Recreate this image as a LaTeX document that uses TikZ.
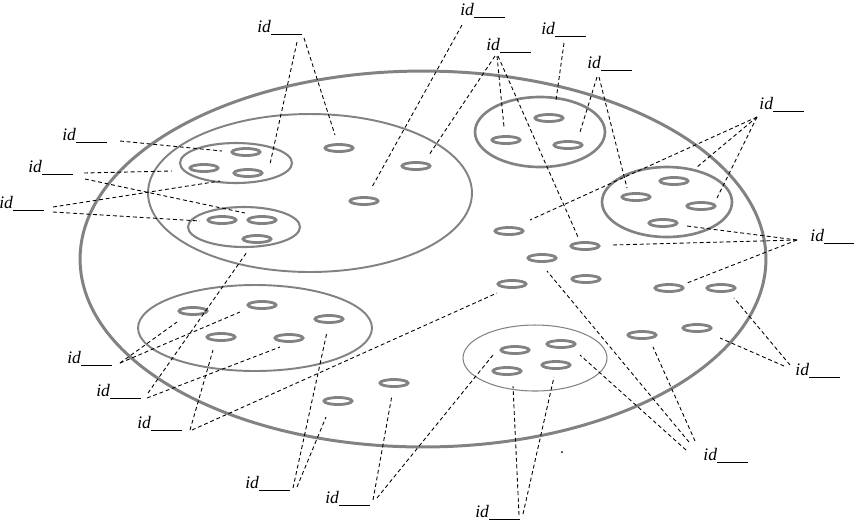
\documentclass[tikz,border=0pt]{standalone}
\usepackage{fontspec}
\setmainfont{Liberation Serif}
\usepackage{tikz}
\usetikzlibrary{shapes.geometric, positioning, calc}
\definecolor{ring}{RGB}{130,130,130}
\newcommand{\idblank}{\textit{id}\rule[-1.6pt]{17.5pt}{0.55pt}}
\tikzset{
  world/.style={ellipse, draw=ring, line width=1.7pt, inner sep=0pt,
                minimum width=13.72cm, minimum height=7.52cm},
  grp/.style={ellipse, draw=ring, line width=1.2pt, inner sep=0pt},
  cell/.style={ellipse, draw=ring, line width=1.6pt, inner sep=0pt,
               minimum width=0.56cm, minimum height=0.14cm},
  lbl/.style={anchor=base west, inner sep=0pt, font=\fontsize{10}{12}\selectfont},
  lead/.style={dash pattern=on 2.2pt off 1.6pt, line width=0.5pt}
}
\begin{document}
\begin{tikzpicture}[x=0.02cm, y=-0.02cm]
  \useasboundingbox (0,0) rectangle (854,522);
  \node[world] (W) at (423,259) {};
  \node[grp, minimum width=6.48cm, minimum height=3.16cm, line width=1.1pt] (G) at (310,193) {};
  \node[grp, minimum width=2.24cm, minimum height=0.8cm] (A) at (236,163) {};
  \node[grp, minimum width=2.24cm, minimum height=0.8cm] (B) at (244,227) {};
  \node[grp, minimum width=2.6cm, minimum height=1.4cm, line width=1.5pt] (C) at (540,132) {};
  \node[grp, minimum width=2.6cm, minimum height=1.4cm, line width=1.5pt] (D) at (667,202) {};
  \node[grp, minimum width=4.68cm, minimum height=1.72cm, line width=1.1pt] (E) at (255,328) {};
  \node[grp, minimum width=2.88cm, minimum height=1.32cm, line width=0.6pt] (F) at (535,358) {};

  \node[cell] (a1) at (246,152) {};
  \node[cell] (a2) at (204,168) {};
  \node[cell] (a3) at (248,173) {};
  \node[cell] (b1) at (222,220) {};
  \node[cell] (b2) at (262,220) {};
  \node[cell] (b3) at (257,239) {};
  \node[cell] (g1) at (339,148) {};
  \node[cell] (g2) at (416,166) {};
  \node[cell] (g3) at (364,201) {};
  \node[cell] (c1) at (549,118) {};
  \node[cell] (c2) at (506,140) {};
  \node[cell] (c3) at (568,145) {};
  \node[cell] (d1) at (674,181) {};
  \node[cell] (d2) at (636,197) {};
  \node[cell] (d3) at (701,206) {};
  \node[cell] (d4) at (663,223) {};
  \node[cell] (m1) at (509,231) {};
  \node[cell] (m2) at (585,246) {};
  \node[cell] (m3) at (542,258) {};
  \node[cell] (m4) at (512,284) {};
  \node[cell] (m5) at (669,288) {};
  \node[cell] (m6) at (721,288) {};
  \node[cell] (m7) at (642,335) {};
  \node[cell] (m8) at (697,328) {};
  \node[cell] (m9) at (586,279) {};
  \node[cell] (e1) at (193,311) {};
  \node[cell] (e2) at (262,305) {};
  \node[cell] (e3) at (329,319) {};
  \node[cell] (e4) at (221,337) {};
  \node[cell] (e5) at (289,338) {};
  \node[cell] (n1) at (338,401) {};
  \node[cell] (n2) at (394,383) {};
  \node[cell] (f1) at (515,350) {};
  \node[cell] (f2) at (561,344) {};
  \node[cell] (f3) at (507,371) {};
  \node[cell] (f4) at (556,365) {};
  \fill (562,452) circle (1);

  \node[lbl] (l1) at (257,32) {\idblank};
  \node[lbl] (l2) at (62,140) {\idblank};
  \node[lbl] (l3) at (28,172) {\idblank};
  \node[lbl] (l4) at (-1,208) {\idblank};
  \node[lbl] (l5) at (460,15) {\idblank};
  \node[lbl] (l6) at (486,50) {\idblank};
  \node[lbl] (l7) at (541,34) {\idblank};
  \node[lbl] (l8) at (587,68) {\idblank};
  \node[lbl] (l9) at (759,109) {\idblank};
  \node[lbl] (l10) at (810,241) {\idblank};
  \node[lbl] (l11) at (795,375) {\idblank};
  \node[lbl] (l12) at (703,460) {\idblank};
  \node[lbl] (l13) at (475,517) {\idblank};
  \node[lbl] (l14) at (245,488) {\idblank};
  \node[lbl] (l15) at (325,503) {\idblank};
  \node[lbl] (l16) at (67,363) {\idblank};
  \node[lbl] (l17) at (96,396) {\idblank};
  \node[lbl] (l18) at (137,428) {\idblank};

  \draw[lead] ($(l1.base west)+(40,10)$) -- ($(A)+(34,1)$);
  \draw[lead] ($(l1.base west)+(47,6)$) -- ($(g1)+(-4,-13)$);
  \draw[lead] ($(l2.base west)+(58,1)$) -- ($(a1)+(-24,-1)$);
  \draw[lead] ($(l3.base west)+(56,1)$) -- ($(a2)+(-32,3)$);
  \draw[lead] ($(l3.base west)+(57,7)$) -- ($(b2)+(-17,-7)$);
  \draw[lead] ($(l4.base west)+(54,-1)$) -- ($(A)+(-16,18)$);
  \draw[lead] ($(l4.base west)+(54,4)$) -- ($(b1)+(-22,1)$);
  \draw[lead] ($(l5.base west)+(2,10)$) -- ($(g3)+(8,-14)$);
  \draw[lead] ($(l6.base west)+(9,6)$) -- ($(g2)+(13,-11)$);
  \draw[lead] ($(l6.base west)+(11,6)$) -- ($(c2)+(-2,-13)$);
  \draw[lead] ($(l6.base west)+(12,6)$) -- ($(m2)+(-7,-9)$);
  \draw[lead] ($(l7.base west)+(23,9)$) -- ($(C)+(16,-32)$);
  \draw[lead] ($(l8.base west)+(10,9)$) -- ($(c3)+(12,-13)$);
  \draw[lead] ($(l8.base west)+(12,9)$) -- ($(d2)+(-9,-9)$);
  \draw[lead] ($(l9.base west)+(-2,8)$) -- ($(m1)+(21,-11)$);
  \draw[lead] ($(l9.base west)+(-2,8)$) -- ($(d1)+(23,-14)$);
  \draw[lead] ($(l9.base west)+(-2,8)$) -- ($(d3)+(16,-8)$);
  \draw[lead] ($(l10.base west)+(-13,-1)$) -- ($(d4)+(24,3)$);
  \draw[lead] ($(l10.base west)+(-13,-1)$) -- ($(m2)+(27,-1)$);
  \draw[lead] ($(l10.base west)+(-13,-1)$) -- ($(m5)+(18,-5)$);
  \draw[lead] ($(l11.base west)+(-5,-10)$) -- ($(m6)+(13,10)$);
  \draw[lead] ($(l11.base west)+(-11,-9)$) -- ($(m8)+(23,10)$);
  \draw[lead] ($(l12.base west)+(-14,-18)$) -- ($(m3)+(5,13)$);
  \draw[lead] ($(l12.base west)+(-17,-10)$) -- ($(f2)+(19,11)$);
  \draw[lead] ($(l12.base west)+(-8,-19)$) -- ($(m7)+(11,12)$);
  \draw[lead] ($(l13.base west)+(44,-2)$) -- ($(f3)+(6,15)$);
  \draw[lead] ($(l13.base west)+(48,-3)$) -- ($(f4)+(-2,12)$);
  \draw[lead] ($(l14.base west)+(48,0)$) -- ($(e3)+(-2,13)$);
  \draw[lead] ($(l14.base west)+(52,-1)$) -- ($(n1)+(-12,16)$);
  \draw[lead] ($(l15.base west)+(48,-3)$) -- ($(n2)+(-2,12)$);
  \draw[lead] ($(l15.base west)+(52,-5)$) -- ($(f1)+(-22,5)$);
  \draw[lead] ($(l16.base west)+(53,0)$) -- ($(e1)+(-16,11)$);
  \draw[lead] ($(l16.base west)+(53,0)$) -- ($(e2)+(-22,7)$);
  \draw[lead] ($(l17.base west)+(51,2)$) -- ($(e5)+(-9,9)$);
  \draw[lead] ($(l17.base west)+(52,-3)$) -- ($(b3)+(-10,13)$);
  \draw[lead] ($(l18.base west)+(53,2)$) -- ($(e4)+(-8,13)$);
  \draw[lead] ($(l18.base west)+(55,2)$) -- ($(m4)+(-15,9)$);
\end{tikzpicture}
\end{document}
